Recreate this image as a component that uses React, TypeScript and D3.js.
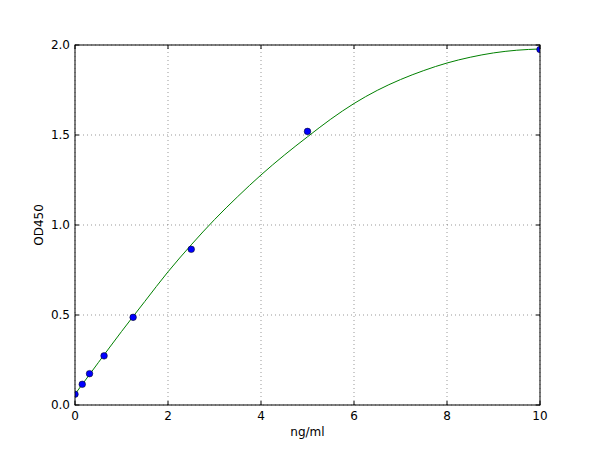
import * as d3 from "d3";

// standard concentrations (ng/ml) and measured OD450
const concentrations = [0, 0.156, 0.3125, 0.625, 1.25, 2.5, 5, 10];
const odValues = [0.06, 0.115, 0.174, 0.273, 0.487, 0.865, 1.52, 1.975];

// fitted curve
const fitX = [0, 0.5, 1, 1.5, 2, 2.5, 3, 3.5, 4, 4.5, 5, 5.5, 6, 6.5, 7, 7.5, 8, 8.5, 9, 9.5, 10];
const fitY = [
  0.06, 0.235, 0.408, 0.575, 0.74, 0.89, 1.03, 1.158, 1.278, 1.388, 1.49, 1.588,
  1.675, 1.748, 1.808, 1.858, 1.9, 1.932, 1.956, 1.971, 1.978,
];

const xTicks = [0, 2, 4, 6, 8, 10];
const yTicks = [0, 0.5, 1.0, 1.5, 2.0];

const width = 600;
const height = 450;
const margin = { top: 45, right: 60, bottom: 45, left: 75 };

export default function App() {
  const x = d3.scaleLinear().domain([0, 10]).range([margin.left, width - margin.right]);
  const y = d3.scaleLinear().domain([0, 2]).range([height - margin.bottom, margin.top]);

  const x0 = x.range()[0];
  const x1 = x.range()[1];
  const y0 = y.range()[0];
  const y1 = y.range()[1];

  const fitLine = d3
    .line<number>()
    .x((_, i) => x(fitX[i]))
    .y((d) => y(d))
    .curve(d3.curveMonotoneX);

  const font = "'DejaVu Sans', sans-serif";

  return (
    <svg
      width={width}
      height={height}
      style={{ position: "absolute", left: 0, top: 0, background: "#fff" }}
      fontFamily={font}
    >
      <defs>
        <clipPath id="plot">
          <rect x={x0} y={y1} width={x1 - x0} height={y0 - y1} />
        </clipPath>
      </defs>

      {/* grid */}
      <g stroke="#000" strokeWidth={0.5} strokeDasharray="1,3" opacity={0.8}>
        {xTicks.map((t) => (
          <line key={"gx" + t} x1={x(t)} x2={x(t)} y1={y0} y2={y1} />
        ))}
        {yTicks.map((t) => (
          <line key={"gy" + t} x1={x0} x2={x1} y1={y(t)} y2={y(t)} />
        ))}
      </g>

      {/* fitted curve and points */}
      <g clipPath="url(#plot)">
        <path d={fitLine(fitY) ?? ""} fill="none" stroke="#008000" strokeWidth={1} />
        {concentrations.map((c, i) => (
          <circle
            key={"p" + i}
            cx={x(c)}
            cy={y(odValues[i])}
            r={3.3}
            fill="#0000ff"
            stroke="#000"
            strokeWidth={0.5}
          />
        ))}
      </g>

      {/* frame */}
      <rect x={x0} y={y1} width={x1 - x0} height={y0 - y1} fill="none" stroke="#000" strokeWidth={1} />

      {/* inward ticks on all sides */}
      <g stroke="#000" strokeWidth={1}>
        {xTicks.map((t) => (
          <g key={"tx" + t}>
            <line x1={x(t)} x2={x(t)} y1={y0} y2={y0 - 4} />
            <line x1={x(t)} x2={x(t)} y1={y1} y2={y1 + 4} />
          </g>
        ))}
        {yTicks.map((t) => (
          <g key={"ty" + t}>
            <line x1={x0} x2={x0 + 4} y1={y(t)} y2={y(t)} />
            <line x1={x1} x2={x1 - 4} y1={y(t)} y2={y(t)} />
          </g>
        ))}
      </g>

      {/* tick labels */}
      <g fontSize={12} fill="#000">
        {xTicks.map((t) => (
          <text key={"lx" + t} x={x(t)} y={y0 + 14.5} textAnchor="middle">
            {t}
          </text>
        ))}
        {yTicks.map((t) => (
          <text key={"ly" + t} x={x0 - 5} y={y(t) + 4.3} textAnchor="end">
            {t.toFixed(1)}
          </text>
        ))}
      </g>

      {/* axis labels */}
      <text x={(x0 + x1) / 2} y={436} textAnchor="middle" fontSize={12}>
        ng/ml
      </text>
      <text
        transform={`translate(43, ${(y0 + y1) / 2}) rotate(-90)`}
        textAnchor="middle"
        fontSize={12}
      >
        OD450
      </text>
    </svg>
  );
}
